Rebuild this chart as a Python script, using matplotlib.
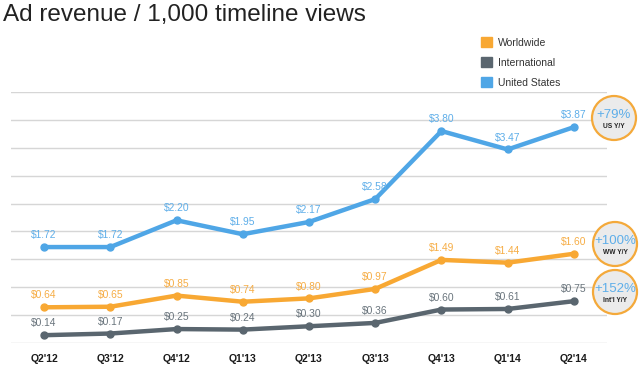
import matplotlib
matplotlib.use("Agg")
import matplotlib.pyplot as plt
from matplotlib.patches import Patch, Circle

plt.rcParams['font.family'] = ['Liberation Sans', 'DejaVu Sans']

quarters = ["Q2'12", "Q3'12", "Q4'12", "Q1'13", "Q2'13", "Q3'13", "Q4'13", "Q1'14", "Q2'14"]
us = [1.72, 1.72, 2.20, 1.95, 2.17, 2.58, 3.80, 3.47, 3.87]
worldwide = [0.64, 0.65, 0.85, 0.74, 0.80, 0.97, 1.49, 1.44, 1.60]
intl = [0.14, 0.17, 0.25, 0.24, 0.30, 0.36, 0.60, 0.61, 0.75]

growth = ["+79%", "+100%", "+152%"]
growth_lbl = ["US Y/Y", "WW Y/Y", "Int'l Y/Y"]

c_us, c_us_t = '#4fa6e6', '#5eaee9'
c_ww, c_ww_t = '#f8a833', '#f6ad45'
c_in, c_in_t = '#5a666f', '#6a757d'

fig = plt.figure(figsize=(6.4, 3.8), dpi=100)
ax = fig.add_axes([11 / 640, 37 / 380, 596 / 640, 251 / 380])

x = list(range(len(quarters)))
for vals, col, tcol in [(us, c_us, c_us_t), (worldwide, c_ww, c_ww_t), (intl, c_in, c_in_t)]:
    ax.plot(x, vals, color=col, lw=3.2, marker='o', ms=5, solid_capstyle='round', zorder=3)
    for xi, v in zip(x, vals):
        ax.annotate('$%.2f' % v, (xi, v), xytext=(0, 8.5), textcoords='offset points',
                    ha='center', va='center', fontsize=7.4, color=tcol, zorder=4)

ax.set_xlim(-0.5, len(quarters) - 0.5)
ax.set_ylim(0, 4.5)
ax.set_yticks([i * 0.5 for i in range(10)])
ax.yaxis.grid(True, color='#d6d6d6', lw=1)
ax.set_axisbelow(True)
ax.tick_params(axis='y', length=0, labelleft=False)
ax.set_xticks(x)
ax.set_xticklabels(quarters, fontsize=7.5, fontweight='bold', color='#1a1a1a')
ax.tick_params(axis='x', length=0, pad=8)
for s in ax.spines.values():
    s.set_visible(False)

fig.text(3 / 640, 1 - 21 / 380, 'Ad revenue / 1,000 timeline views', fontsize=17.5,
         color='#222222', ha='left', va='baseline')

handles = [Patch(color=c_ww), Patch(color=c_in), Patch(color=c_us)]
fig.legend(handles, ['Worldwide', 'International', 'United States'],
           loc='upper left', bbox_to_anchor=(481 / 640, 1 - 37 / 380), frameon=False,
           fontsize=7.5, handlelength=1.1, handleheight=1.1, handletextpad=0.5,
           labelspacing=0.92, borderpad=0, borderaxespad=0, labelcolor='#333333')

# growth badges on the right
ov = fig.add_axes([0, 0, 1, 1], zorder=5)
ov.set_xlim(0, 640)
ov.set_ylim(380, 0)
ov.axis('off')
centers = [(614, 118), (615, 244), (615, 292)]
for (cx, cy), g, lbl in zip(centers, growth, growth_lbl):
    ov.add_patch(Circle((cx, cy), 22, facecolor='#ebebeb', edgecolor='#f4a93a', lw=1.6))
    ov.text(cx, cy - 3, g, ha='center', va='center', fontsize=9.5, color=c_us_t)
    ov.text(cx, cy + 9, lbl, ha='center', va='center', fontsize=4.8, fontweight='bold', color='#222222')

fig.savefig('out.png', dpi=100, facecolor='white')
